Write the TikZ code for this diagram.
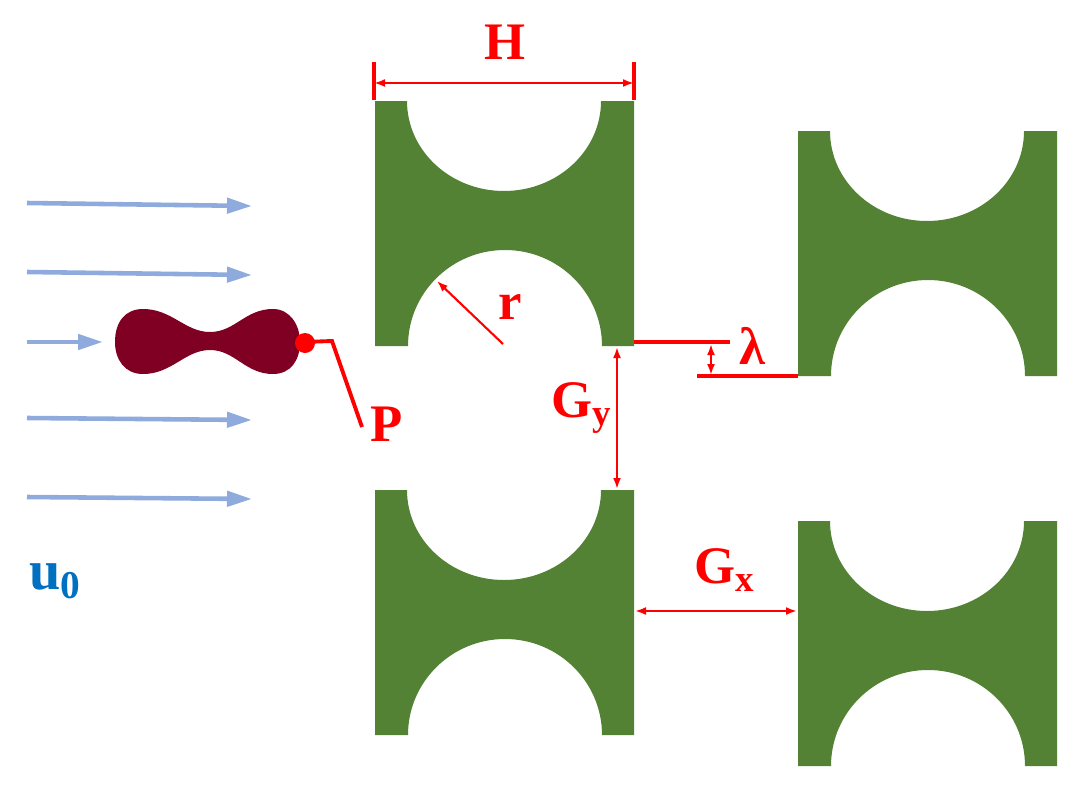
\documentclass[tikz,border=0pt]{standalone}
\usepackage{fontspec}
\setmainfont{Liberation Serif}
\usetikzlibrary{arrows.meta}
\usetikzlibrary{positioning}
\definecolor{postgreen}{HTML}{548235}
\definecolor{flowblue}{HTML}{8FAADC}
\definecolor{bodyred}{HTML}{7F0022}
\definecolor{labelblue}{HTML}{0070C0}
\tikzset{
  post/.pic={
    \fill[postgreen] (0,0) -- (32,0) arc[start angle=180,end angle=0,x radius=97,y radius=90] -- (259,0)
      -- (259,245) -- (227,245) arc[start angle=0,end angle=-180,x radius=97,y radius=96] -- (0,245) -- cycle;
  },
  flow/.style={draw=flowblue,line width=1.3pt,-{Triangle[length=25*0.01cm,width=15*0.01cm]}},
  dim/.style={draw=red,line width=0.6pt,{Latex[length=11*0.01cm,width=8*0.01cm]}-{Latex[length=11*0.01cm,width=8*0.01cm]}},
  tick/.style={draw=red,line width=0.9pt},
  ledge/.style={draw=red,line width=1.1pt},
  redlabel/.style={text=red,font=\bfseries\fontsize{15}{15}\selectfont,inner sep=0pt},
}
\begin{document}
\begin{tikzpicture}[x=0.01cm,y=-0.01cm]
  \useasboundingbox (0,0) rectangle (1091,797);
  % posts
  \pic at (375,101) {post};
  \pic at (375,490) {post};
  \pic at (798,131) {post};
  \pic at (798,521) {post};
  % incoming flow
  \foreach \name/\ya/\yb/\xb in {fa/203/206/252,fb/272/275/252,fc/342/342/103,fd/418/420/252,fe/497/499/252}{
    \coordinate (\name l) at (27,\ya);
    \coordinate (\name r) at (\xb,\yb);
    \draw[flow] (\name l) -- (\name r);
  }
  % red blood cell
  \fill[bodyred] (115,342) .. controls (115,322) and (125,309) .. (143,309)
    .. controls (172,309) and (185,332) .. (210,332)
    .. controls (235,332) and (245,309) .. (273,309)
    .. controls (290,309) and (300,325) .. (300,342)
    .. controls (300,360) and (291,374) .. (273,374)
    .. controls (245,374) and (235,350) .. (210,350)
    .. controls (185,350) and (172,374) .. (143,374)
    .. controls (125,374) and (115,360) .. (115,342) -- cycle;
  \fill[red] (305,343) circle[radius=10];
  % labels
  \node[redlabel] (H) at (505,42) {H};
  \node[redlabel] (P) at (387,424) {P};
  \node[redlabel] (r) at (510,307) {r};
  \node[redlabel] (lam) at (752,346) {λ};
  \node[redlabel] (Gy) at (582,408) {G\textsubscript{y}};
  \node[redlabel] (Gx) at (725,570) {G\textsubscript{x}};
  \node[text=labelblue,font=\bfseries\fontsize{16}{16}\selectfont,inner sep=0pt] (u) at (56,581) {u\textsubscript{0}};
  % P leader
  \coordinate (pa) at (304,342);
  \coordinate (pb) at (332,341);
  \coordinate (pc) at (362,427);
  \draw[ledge] (pa) -- (pb) -- (pc);
  % H
  \coordinate (ha) at (374,83);
  \coordinate (hb) at (634,83);
  \coordinate (hat) at (374,62);
  \coordinate (hab) at (374,100);
  \coordinate (hbt) at (634,62);
  \coordinate (hbb) at (634,100);
  \draw[dim] (ha) -- (hb);
  \draw[tick] (hat) -- (hab);
  \draw[tick] (hbt) -- (hbb);
  % r
  \coordinate (ra) at (503,344);
  \coordinate (rb) at (437,281);
  \draw[draw=red,line width=0.6pt,-{Latex[length=11*0.01cm,width=8*0.01cm]}] (ra) -- (rb);
  % Gy, Gx
  \coordinate (gya) at (617,347);
  \coordinate (gyb) at (617,489);
  \draw[dim] (gya) -- (gyb);
  \coordinate (gxa) at (635,611);
  \coordinate (gxb) at (797,611);
  \draw[dim] (gxa) -- (gxb);
  % lambda
  \coordinate (la) at (634,342);
  \coordinate (lb) at (730,342);
  \coordinate (lc) at (697,376);
  \coordinate (ld) at (798,376);
  \draw[ledge] (la) -- (lb);
  \draw[ledge] (lc) -- (ld);
  \coordinate (le) at (711,344);
  \coordinate (lf) at (711,375);
  \draw[dim] (le) -- (lf);
\end{tikzpicture}
\end{document}
